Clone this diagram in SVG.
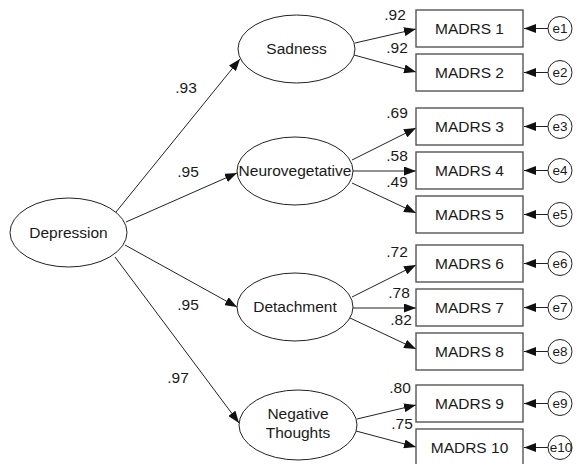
<svg xmlns="http://www.w3.org/2000/svg" width="576" height="464" viewBox="0 0 576 464">
<defs>
<style>
text{font-family:"Liberation Sans",Arial,sans-serif;font-size:15.5px;fill:#1a1a1a}
.lat{fill:#fff;stroke:#222;stroke-width:1}
.obs{fill:#fff;stroke:#555;stroke-width:1.4}
.err{fill:#fff;stroke:#222;stroke-width:1}
.et{font-size:13.5px}
.c line{stroke:#222;stroke-width:1;marker-end:url(#ah)}
.m{text-anchor:middle}
</style>
<marker id="ah" markerUnits="userSpaceOnUse" markerWidth="12" markerHeight="9" refX="12" refY="4.5" orient="auto">
<path d="M0,0 L12,4.5 L0,9 z" fill="#111"/>
</marker>
</defs>
<rect width="576" height="464" fill="#fff"/>
<g id="connectors" class="c">
<line x1="116" y1="212" x2="240" y2="59"/>
<line x1="126" y1="222" x2="237" y2="173"/>
<line x1="125" y1="245" x2="237" y2="307"/>
<line x1="115" y1="257" x2="239" y2="423"/>
<line x1="355" y1="43" x2="416" y2="29"/>
<line x1="354" y1="55" x2="416" y2="72"/>
<line x1="352" y1="160" x2="416" y2="128"/>
<line x1="353" y1="171" x2="416" y2="171"/>
<line x1="352" y1="183" x2="416" y2="213"/>
<line x1="352" y1="297" x2="416" y2="265"/>
<line x1="353" y1="308" x2="416" y2="308"/>
<line x1="350" y1="318" x2="416" y2="349"/>
<line x1="357" y1="419" x2="416" y2="405"/>
<line x1="356" y1="431" x2="416" y2="447"/>
<line x1="548" y1="28.5" x2="524" y2="28.5"/>
<line x1="548" y1="72.5" x2="524" y2="72.5"/>
<line x1="548" y1="126.5" x2="524" y2="126.5"/>
<line x1="548" y1="170.5" x2="524" y2="170.5"/>
<line x1="548" y1="214.5" x2="524" y2="214.5"/>
<line x1="548" y1="263.5" x2="524" y2="263.5"/>
<line x1="548" y1="307.5" x2="524" y2="307.5"/>
<line x1="548" y1="351.5" x2="524" y2="351.5"/>
<line x1="548" y1="403.5" x2="524" y2="403.5"/>
<line x1="548" y1="447.5" x2="524" y2="447.5"/>
</g>
<g id="loadings">
<text class="m" x="186" y="93">.93</text>
<text class="m" x="188" y="177">.95</text>
<text class="m" x="188" y="310">.95</text>
<text class="m" x="178" y="383">.97</text>
<text class="m" x="395" y="20">.92</text>
<text class="m" x="397" y="53">.92</text>
<text class="m" x="397" y="118">.69</text>
<text class="m" x="397" y="161">.58</text>
<text class="m" x="397" y="187">.49</text>
<text class="m" x="397" y="257">.72</text>
<text class="m" x="399" y="298">.78</text>
<text class="m" x="401" y="325">.82</text>
<text class="m" x="400" y="393">.80</text>
<text class="m" x="402" y="429">.75</text>
</g>
<g id="depression"><ellipse class="lat" cx="68.5" cy="232.5" rx="58.5" ry="34.5"/><text class="m" x="68.5" y="238">Depression</text></g>
<g id="sadness"><ellipse class="lat" cx="296.5" cy="49" rx="58.5" ry="34"/><text class="m" x="296.5" y="54">Sadness</text></g>
<g id="neurovegetative"><ellipse class="lat" cx="295" cy="171" rx="58" ry="34"/><text class="m" x="295" y="176">Neurovegetative</text></g>
<g id="detachment"><ellipse class="lat" cx="295" cy="307" rx="58" ry="34"/><text class="m" x="295" y="312">Detachment</text></g>
<g id="negative-thoughts"><ellipse class="lat" cx="298" cy="425" rx="59" ry="35"/><text class="m" x="298" y="419">Negative</text><text class="m" x="298" y="438">Thoughts</text></g>
<g id="madrs1"><rect class="obs" x="416" y="10" width="107" height="37"/><text class="m" x="469.5" y="34">MADRS 1</text></g>
<g id="madrs2"><rect class="obs" x="416" y="54" width="107" height="37"/><text class="m" x="469.5" y="78">MADRS 2</text></g>
<g id="madrs3"><rect class="obs" x="416" y="108" width="107" height="37"/><text class="m" x="469.5" y="132">MADRS 3</text></g>
<g id="madrs4"><rect class="obs" x="416" y="152" width="107" height="37"/><text class="m" x="469.5" y="176">MADRS 4</text></g>
<g id="madrs5"><rect class="obs" x="416" y="196" width="107" height="37"/><text class="m" x="469.5" y="220">MADRS 5</text></g>
<g id="madrs6"><rect class="obs" x="416" y="245" width="107" height="37"/><text class="m" x="469.5" y="269">MADRS 6</text></g>
<g id="madrs7"><rect class="obs" x="416" y="289" width="107" height="37"/><text class="m" x="469.5" y="313">MADRS 7</text></g>
<g id="madrs8"><rect class="obs" x="416" y="333" width="107" height="37"/><text class="m" x="469.5" y="357">MADRS 8</text></g>
<g id="madrs9"><rect class="obs" x="416" y="385" width="107" height="37"/><text class="m" x="469.5" y="409">MADRS 9</text></g>
<g id="madrs10"><rect class="obs" x="416" y="429" width="107" height="40"/><text class="m" x="469.5" y="453">MADRS 10</text></g>
<g id="e1"><circle class="err" cx="560" cy="28.5" r="12"/><text class="m et" x="560" y="33">e1</text></g>
<g id="e2"><circle class="err" cx="560" cy="72.5" r="12"/><text class="m et" x="560" y="77">e2</text></g>
<g id="e3"><circle class="err" cx="560" cy="126.5" r="12"/><text class="m et" x="560" y="131">e3</text></g>
<g id="e4"><circle class="err" cx="560" cy="170.5" r="12"/><text class="m et" x="560" y="175">e4</text></g>
<g id="e5"><circle class="err" cx="560" cy="214.5" r="12"/><text class="m et" x="560" y="219">e5</text></g>
<g id="e6"><circle class="err" cx="560" cy="263.5" r="12"/><text class="m et" x="560" y="268">e6</text></g>
<g id="e7"><circle class="err" cx="560" cy="307.5" r="12"/><text class="m et" x="560" y="312">e7</text></g>
<g id="e8"><circle class="err" cx="560" cy="351.5" r="12"/><text class="m et" x="560" y="356">e8</text></g>
<g id="e9"><circle class="err" cx="560" cy="403.5" r="12"/><text class="m et" x="560" y="408">e9</text></g>
<g id="e10"><circle class="err" cx="560" cy="447.5" r="12"/><text class="m et" x="561" y="452">e10</text></g>
</svg>
